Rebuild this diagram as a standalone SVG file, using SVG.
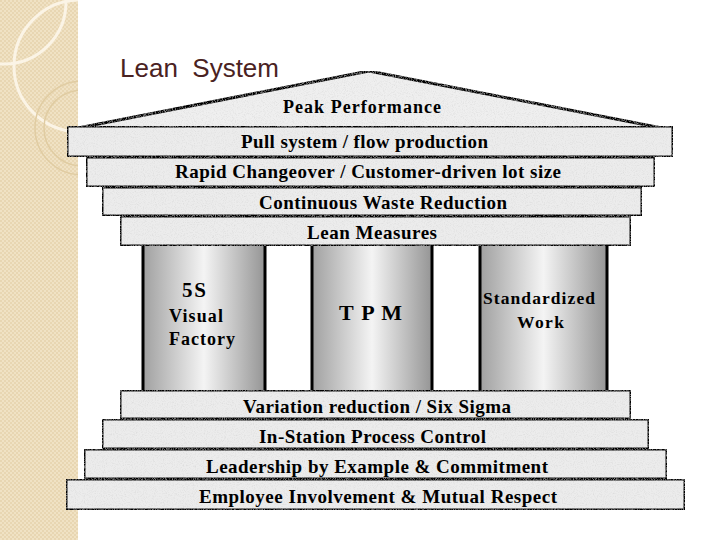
<svg xmlns="http://www.w3.org/2000/svg" width="720" height="540" viewBox="0 0 720 540">
<defs>
<style>
.bar{stroke:#000;stroke-width:3;fill:#ececec;filter:url(#stone)}
.pil{stroke:#000;stroke-width:3;fill:url(#pg)}
.lbl{font-family:"Liberation Serif","Times New Roman",serif;font-weight:bold;font-size:19px;fill:#000}
.s17{font-size:17.5px}
.s18{font-size:18px}
.s21{font-size:21px}
.s22{font-size:22px}
.deco{fill:none;stroke:#e0cca2;stroke-width:1.5}
.lite{fill:none;stroke:#fbf4e6;stroke-width:3}
</style>
<pattern id="dots" width="4" height="4" patternUnits="userSpaceOnUse">
<rect width="4" height="4" fill="#f0e2c4"/>
<rect width="2" height="2" fill="#e8d6b2"/>
<rect x="2" y="2" width="2" height="2" fill="#e8d6b2"/>
</pattern>
<clipPath id="side"><rect x="0" y="0" width="78" height="540"/></clipPath>
<linearGradient id="pg" x1="0" y1="0" x2="1" y2="0">
<stop offset="0" stop-color="#a0a0a0"/>
<stop offset="0.5" stop-color="#f4f4f4"/>
<stop offset="1" stop-color="#959595"/>
</linearGradient>
<filter id="stone" x="0" y="0" width="100%" height="100%">
<feTurbulence type="fractalNoise" baseFrequency="0.9" numOctaves="2" seed="4" result="n"/>
<feColorMatrix in="n" type="matrix" values="0 0 0 0 0.62  0 0 0 0 0.62  0 0 0 0 0.62  1.2 0 0 0 -0.55" result="g"/>
<feComposite in="g" in2="SourceGraphic" operator="in" result="s"/>
<feMerge><feMergeNode in="SourceGraphic"/><feMergeNode in="s"/></feMerge>
</filter>
</defs>
<rect width="720" height="540" fill="#fff"/>
<g id="sidebar" clip-path="url(#side)">
<rect x="0" y="0" width="78" height="540" fill="url(#dots)"/>
<circle cx="4" cy="2" r="62" class="lite"/>
<circle cx="80" cy="66" r="66" class="lite"/>
<circle cx="82" cy="128" r="47" class="deco"/>
<circle cx="82" cy="128" r="38" class="deco"/>
</g>
<text id="title" x="120" y="77" font-family="'Liberation Sans',Arial,sans-serif" font-size="26" fill="#4a2222" xml:space="preserve">Lean  System</text>
<g id="roof">
<polygon points="78,128 369,71 662,128" fill="#efefef" stroke="#000" stroke-width="3" stroke-linejoin="round" filter="url(#stone)"/>
<text class="lbl s18" x="283" y="113" textLength="158" lengthAdjust="spacing">Peak Performance</text>
</g>
<g id="pillars">
<g id="pillar-5s"><rect class="pil" x="143" y="244" width="122" height="148"/>
<text class="lbl s21" x="182" y="297" textLength="24">5S</text>
<text class="lbl s18" x="169" y="322" textLength="54">Visual</text>
<text class="lbl s18" x="169" y="345" textLength="66">Factory</text></g>
<g id="pillar-tpm"><rect class="pil" x="312" y="244" width="120" height="148"/>
<text class="lbl s22" x="339" y="320" textLength="63">T P M</text></g>
<g id="pillar-std"><rect class="pil" x="480" y="244" width="127" height="148"/>
<text class="lbl s17" x="483" y="304" textLength="112">Standardized</text>
<text class="lbl s17" x="517" y="328" textLength="47">Work</text></g>
</g>
<g id="bar-pull"><rect class="bar" x="67" y="126" width="606" height="31"/>
<text class="lbl" x="241" y="148" textLength="247">Pull system / flow production</text></g>
<g id="bar-rapid"><rect class="bar" x="86" y="157" width="569" height="30"/>
<text class="lbl" x="175" y="178" textLength="386">Rapid Changeover / Customer-driven lot size</text></g>
<g id="bar-waste"><rect class="bar" x="102" y="187" width="540" height="29"/>
<text class="lbl" x="259" y="209" textLength="248">Continuous Waste Reduction</text></g>
<g id="bar-measures"><rect class="bar" x="120" y="216" width="511" height="30"/>
<text class="lbl" x="307" y="239" textLength="130">Lean Measures</text></g>
<g id="bar-variation"><rect class="bar" x="120" y="390" width="511" height="29"/>
<text class="lbl" x="243" y="413" textLength="268">Variation reduction / Six Sigma</text></g>
<g id="bar-instation"><rect class="bar" x="102" y="419" width="547" height="30"/>
<text class="lbl" x="259" y="443" textLength="227">In-Station Process Control</text></g>
<g id="bar-leadership"><rect class="bar" x="84" y="449" width="583" height="30"/>
<text class="lbl" x="206" y="473" textLength="342">Leadership by Example &amp; Commitment</text></g>
<g id="bar-employee"><rect class="bar" x="66" y="479" width="619" height="31"/>
<text class="lbl" x="199" y="503" textLength="358">Employee Involvement &amp; Mutual Respect</text></g>
<g id="connectors"/>
</svg>
